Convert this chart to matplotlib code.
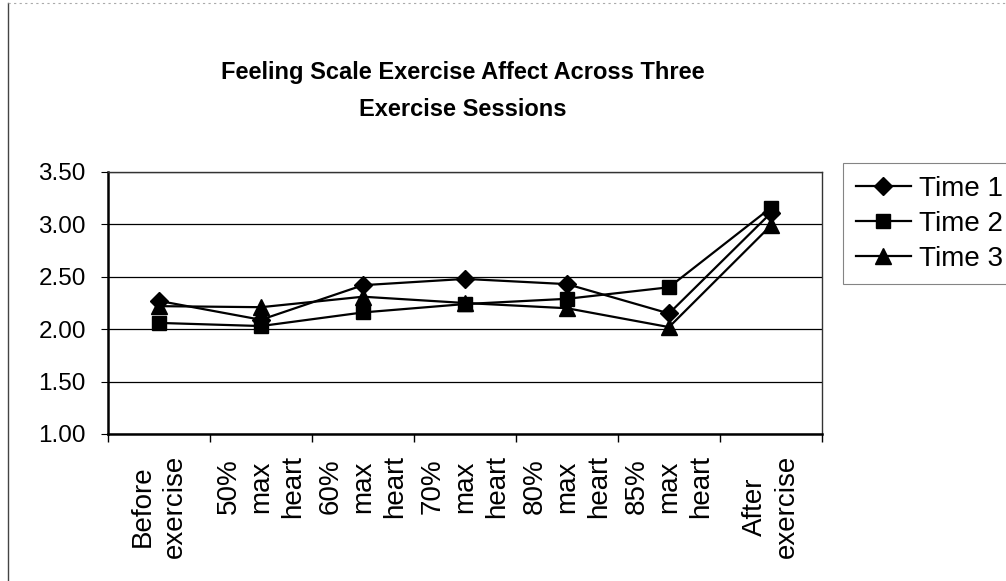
import matplotlib
matplotlib.use("Agg")
import matplotlib.pyplot as plt
from matplotlib.lines import Line2D

plt.rcParams["font.family"] = ["Liberation Sans", "DejaVu Sans"]

stages = [
    "Before\nexercise",
    "50%\nmax\nheart",
    "60%\nmax\nheart",
    "70%\nmax\nheart",
    "80%\nmax\nheart",
    "85%\nmax\nheart",
    "After\nexercise",
]
time1 = [2.27, 2.09, 2.42, 2.48, 2.43, 2.15, 3.11]
time2 = [2.06, 2.03, 2.16, 2.24, 2.29, 2.40, 3.16]
time3 = [2.22, 2.21, 2.31, 2.25, 2.20, 2.02, 2.99]
y_ticks = [1.00, 1.50, 2.00, 2.50, 3.00, 3.50]

W, H = 1006, 581
fig = plt.figure(figsize=(W / 100, H / 100), dpi=100)
ax = fig.add_axes([108 / W, 1 - 434 / H, (822 - 108) / W, (434 - 172) / H])

x = list(range(len(stages)))
ax.plot(x, time1, color="black", lw=1.6, marker="D", ms=9, label="Time 1", zorder=3)
ax.plot(x, time2, color="black", lw=1.6, marker="s", ms=10, label="Time 2", zorder=3)
ax.plot(x, time3, color="black", lw=1.6, marker="^", ms=11, label="Time 3", zorder=3)

ax.set_xlim(-0.5, len(stages) - 0.5)
ax.set_ylim(y_ticks[0], y_ticks[-1])
ax.set_yticks(y_ticks)
ax.set_yticklabels([f"{v:.2f}" for v in y_ticks], fontsize=17.5)
ax.tick_params(axis="y", direction="out", length=5, width=0.8, pad=11)

ax.set_xticks(x)
ax.set_xticklabels(stages, rotation=90, fontsize=20, ha="center", va="top",
                   multialignment="center", linespacing=1.3)
ax.tick_params(axis="x", which="major", length=0, pad=15)
ax.set_xticks([i - 0.5 for i in range(len(stages) + 1)], minor=True)
ax.tick_params(axis="x", which="minor", direction="out", length=6, width=1.0)

ax.yaxis.grid(True, color="black", lw=0.9)
ax.set_axisbelow(True)
for side in ("left", "bottom"):
    ax.spines[side].set_linewidth(1.8)
for side in ("top", "right"):
    ax.spines[side].set_linewidth(1.0)
    ax.spines[side].set_color("#333333")

fig.text(463 / W, 1 - 91 / H,
         "Feeling Scale Exercise Affect Across Three\nExercise Sessions",
         ha="center", va="center", fontsize=17, fontweight="bold", linespacing=1.8)

leg = fig.legend(loc="upper left", bbox_to_anchor=(843 / W, 1 - 163 / H),
                 fontsize=20, frameon=True, fancybox=False, handlelength=2.0,
                 handletextpad=0.3, labelspacing=0.33, borderpad=0.45,
                 borderaxespad=0)
leg.get_frame().set_edgecolor("#666666")
leg.get_frame().set_linewidth(0.8)

# outer chart frame (left and top edges)
fig.add_artist(Line2D([8 / W, 8 / W], [0, 1 - 3 / H], color="#444444", lw=1.0))
fig.add_artist(Line2D([8 / W, 1], [1 - 3 / H, 1 - 3 / H], color="#aaaaaa", lw=0.8,
                      linestyle=(0, (2, 3))))

fig.savefig("out.png", dpi=100)
